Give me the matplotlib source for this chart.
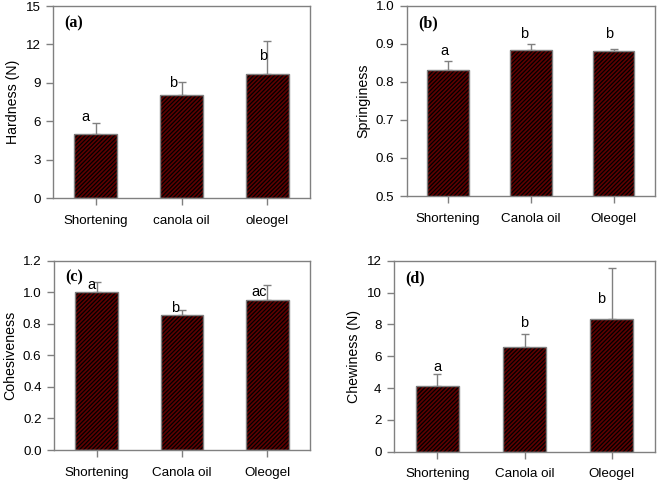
import matplotlib
matplotlib.use("Agg")
from matplotlib import pyplot as plt
import numpy as np

plt.rcParams['font.family'] = ['Liberation Sans', 'DejaVu Sans']
plt.rcParams['hatch.linewidth'] = 0.9

labels_a = ["Shortening", "canola oil", "oleogel"]
labels_b = ["Shortening", "Canola oil", "Oleogel"]

hardness = [5.0, 8.05, 9.7]
hardness_err = [0.9, 1.0, 2.6]
hardness_sig = ["a", "b", "b"]

springiness = [0.832, 0.885, 0.882]
springiness_err = [0.022, 0.016, 0.006]
springiness_sig = ["a", "b", "b"]

cohesiveness = [1.0, 0.857, 0.95]
cohesiveness_err = [0.063, 0.03, 0.095]
cohesiveness_sig = ["a", "b", "ac"]

chewiness = [4.15, 6.57, 8.35]
chewiness_err = [0.72, 0.81, 3.18]
chewiness_sig = ["a", "b", "b"]

fig = plt.figure(figsize=(6.61, 4.83), dpi=100)

gray = "#808080"


def panel(rect, labels, vals, errs, sig, ylim, yticks, ylabel, tag, fmt, sig_dx, sig_y):
    ax = fig.add_axes(rect)
    x = np.arange(len(vals))
    ax.bar(x, vals, width=0.5, color="#5e0000", edgecolor="black",
           hatch="////////", linewidth=0, zorder=2)
    ax.bar(x, vals, width=0.5, fill=False, edgecolor=gray, linewidth=1.0, zorder=3)
    ax.errorbar(x, vals, yerr=[np.zeros(len(vals)), errs], fmt="none",
                ecolor=gray, elinewidth=1.0, capsize=3, capthick=1.0, zorder=1)
    for i, s in enumerate(sig):
        ax.text(x[i] + sig_dx[i], sig_y[i], s, ha="center", va="center", fontsize=10.5)
    ax.set_xlim(-0.5, 2.5)
    ax.set_ylim(*ylim)
    ax.set_yticks(yticks)
    ax.set_yticklabels([fmt.format(t) for t in yticks])
    ax.set_xticks(x)
    ax.set_xticklabels(labels)
    ax.tick_params(axis="both", direction="out", length=5, color=gray,
                   labelsize=9.6, width=1.0, pad=4)
    ax.tick_params(axis="x", pad=7)
    for sp in ax.spines.values():
        sp.set_color(gray)
        sp.set_linewidth(1.0)
    ax.set_ylabel(ylabel, fontsize=10.2)
    ax.text(0.045, 0.91, tag, transform=ax.transAxes, fontweight="bold",
            fontsize=11.5, family="Liberation Serif", va="center", ha="left")
    return ax


ax1 = panel([0.0802, 0.590, 0.3888, 0.3975], labels_a, hardness, hardness_err,
            hardness_sig, (0, 15), np.arange(0, 16, 3), "Hardness (N)", "(a)",
            "{:.0f}", [-0.12, -0.1, -0.05], [6.33, 8.98, 11.1])
ax2 = panel([0.6153, 0.5942, 0.3756, 0.3934], labels_b, springiness, springiness_err,
            springiness_sig, (0.5, 1.0), np.linspace(0.5, 1.0, 6), "Springiness", "(b)",
            "{:.1f}", [-0.05, -0.085, -0.06], [0.882, 0.926, 0.926])
ax3 = panel([0.0817, 0.0683, 0.3873, 0.3919], labels_b, cohesiveness, cohesiveness_err,
            cohesiveness_sig, (0, 1.2), np.linspace(0, 1.2, 7), "Cohesiveness", "(c)",
            "{:.1f}", [-0.066, -0.08, -0.1], [1.046, 0.898, 1.0])
ax4 = panel([0.596, 0.0648, 0.395, 0.3954], labels_b, chewiness, chewiness_err,
            chewiness_sig, (0, 12), np.arange(0, 13, 2), "Chewiness (N)", "(d)",
            "{:.0f}", [0.0, 0.0, -0.12], [5.3, 8.1, 9.6])

fig.savefig("out.png", dpi=100)
